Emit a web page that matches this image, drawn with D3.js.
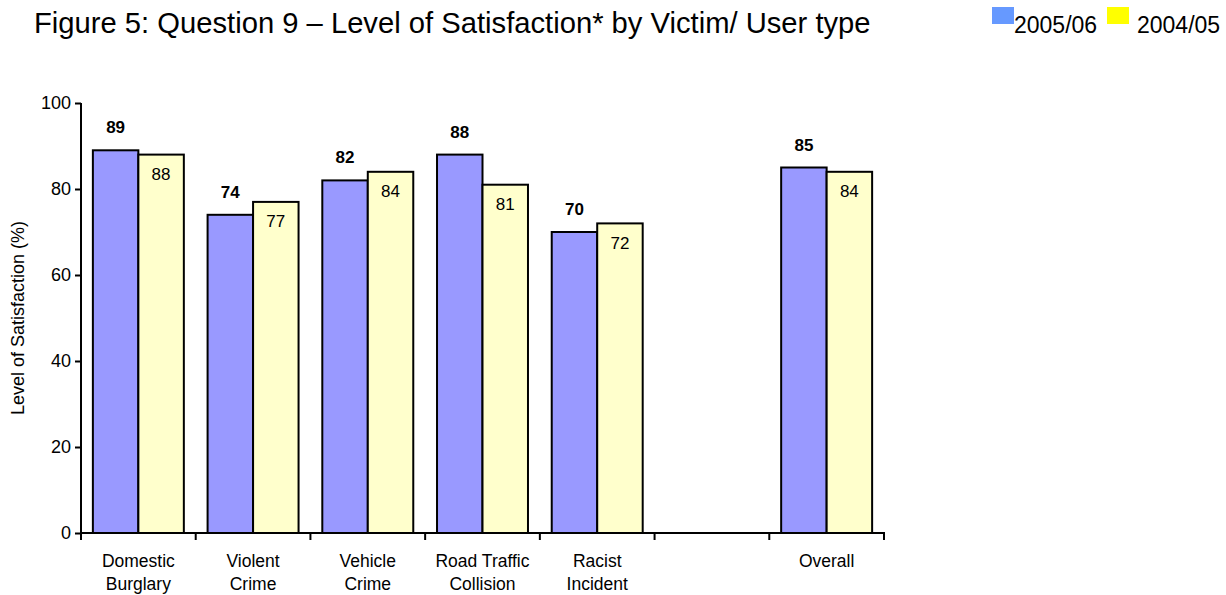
<!DOCTYPE html>
<html>
<head>
<meta charset="utf-8">
<script src="https://cdn.jsdelivr.net/npm/d3@7"></script>
<style>
  html, body { margin: 0; padding: 0; background: #fff; }
  svg { display: block; font-family: Arial, "Liberation Sans", sans-serif; }
</style>
</head>
<body>
<svg id="chart" width="1226" height="595"></svg>
<script>
// ---- data ----
const categories = ["Domestic\nBurglary", "Violent\nCrime", "Vehicle\nCrime", "Road Traffic\nCollision", "Racist\nIncident", "", "Overall"];
const seriesNames = ["2005/06", "2004/05"];
const values2005 = [89, 74, 82, 88, 70, null, 85];
const values2004 = [88, 77, 84, 81, 72, null, 84];
const yTicks = [0, 20, 40, 60, 80, 100];
const titleText = "Figure 5: Question 9 \u2013 Level of Satisfaction* by Victim/ User type";
const yLabel = "Level of Satisfaction (%)";

(function () {
// ---- layout ----
const svg = d3.select("#chart");
const pLeft = 81, pRight = 884, pTop = 103, pBottom = 533;
const barFill = ["#9999FF", "#FFFFCC"];
const legendFill = ["#6699FF", "#FFFF00"];

const x0 = d3.scaleBand().domain(categories).range([pLeft, pRight]).paddingInner(0.207).paddingOuter(0.1035);
const x1 = d3.scaleBand().domain(seriesNames).range([0, x0.bandwidth()]);
const y = d3.scaleLinear().domain([0, 100]).range([pBottom, pTop]);

const rows = categories.map((c, i) => ({ cat: c, vals: [values2005[i], values2004[i]] }));

// title
svg.append("text").attr("x", 34).attr("y", 33).attr("font-size", 29.2).attr("fill", "#000").text(titleText);

// legend
const legendX = [992, 1107];
seriesNames.forEach((s, i) => {
  svg.append("rect").attr("x", legendX[i]).attr("y", 7).attr("width", 22).attr("height", 17).attr("fill", legendFill[i]);
  svg.append("text").attr("x", legendX[i] + (i === 0 ? 22 : 30)).attr("y", 33).attr("font-size", 23).text(s);
});

// bars
const groups = svg.append("g").selectAll("g").data(rows).join("g")
  .attr("transform", d => `translate(${x0(d.cat)},0)`);
groups.selectAll("rect").data(d => d.vals.map((v, j) => ({ v, s: seriesNames[j], j })).filter(e => e.v !== null))
  .join("rect")
  .attr("x", e => x1(e.s)).attr("width", x1.bandwidth())
  .attr("y", e => y(e.v)).attr("height", e => y(0) - y(e.v))
  .attr("fill", e => barFill[e.j]).attr("stroke", "#000").attr("stroke-width", 2);

// value labels
groups.selectAll("text.val").data(d => d.vals.map((v, j) => ({ v, s: seriesNames[j], j })).filter(e => e.v !== null))
  .join("text").attr("class", "val")
  .attr("x", e => x1(e.s) + x1.bandwidth() / 2)
  .attr("y", e => e.j === 0 ? y(e.v) - 17 : y(e.v) + 25.5)
  .attr("text-anchor", "middle").attr("font-size", 17)
  .attr("font-weight", e => e.j === 0 ? "bold" : "normal")
  .text(e => e.v);

// y axis
const yAxis = d3.axisLeft(y).tickValues(yTicks).tickSize(6).tickPadding(4);
const gy = svg.append("g").attr("transform", `translate(${pLeft},0)`).call(yAxis);
gy.select(".domain").attr("stroke", "#000").attr("stroke-width", 2).attr("d", `M0,${pTop}V${pBottom}`);
gy.selectAll(".tick line").attr("stroke", "#000").attr("stroke-width", 2);
gy.selectAll(".tick text").attr("font-size", 18).attr("font-family", "Arial, 'Liberation Sans', sans-serif").attr("fill", "#000");

// x axis with ticks at category boundaries
const step = x0.step();
const boundaries = d3.range(categories.length + 1).map(i => pLeft + i * step);
const gx = svg.append("g");
gx.append("line").attr("x1", pLeft).attr("x2", pRight + 1).attr("y1", pBottom).attr("y2", pBottom).attr("stroke", "#000").attr("stroke-width", 2);
gx.selectAll("line.tk").data(boundaries).join("line").attr("class", "tk")
  .attr("x1", d => d).attr("x2", d => d).attr("y1", pBottom).attr("y2", pBottom + 7)
  .attr("stroke", "#000").attr("stroke-width", 2);
gx.selectAll("text.cat").data(categories).join("text").attr("class", "cat")
  .attr("x", d => x0(d) + x0.bandwidth() / 2).attr("y", 567)
  .attr("text-anchor", "middle").attr("font-size", 17.5)
  .each(function(d) {
    const lines = d.split("\n");
    d3.select(this).selectAll("tspan").data(lines).join("tspan")
      .attr("x", x0(d) + x0.bandwidth() / 2)
      .attr("dy", (l, i) => i === 0 ? 0 : 23)
      .text(l => l);
  });

// y axis label
svg.append("text").attr("transform", `translate(24,${(pTop + pBottom) / 2}) rotate(-90)`)
  .attr("text-anchor", "middle").attr("font-size", 18).text(yLabel);
})();
</script>
</body>
</html>
